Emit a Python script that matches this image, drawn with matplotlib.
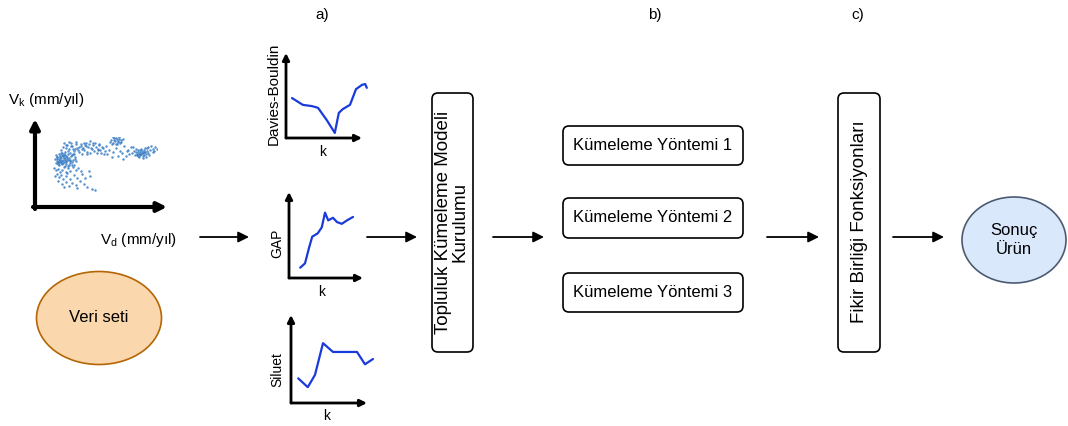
import matplotlib
matplotlib.use("Agg")
import matplotlib.pyplot as plt
from matplotlib.patches import FancyBboxPatch, Ellipse

plt.rcParams['font.family'] = ['Liberation Sans', 'DejaVu Sans']
plt.rcParams['mathtext.fontset'] = 'custom'
plt.rcParams['mathtext.rm'] = 'Liberation Sans'

W, H = 1068, 426

# --- data ---
# velocity scatter (V_d, V_k), grouped by visible clusters
left_vd = [3.1, 4.5, 5.2, 6.0, 6.8, 7.4, 8.1, 8.9, 9.6, 10.3,
           11.0, 11.8, 12.5, 13.3, 14.0, 15.2, 16.4, 17.5, 18.9, 20.1,
           21.6, 22.8, 4.0, 5.7, 7.0, 8.4, 9.9, 11.3, 12.9, 14.6,
           16.0, 17.8, 19.5, 21.0, 3.6, 5.0, 6.4, 7.8, 9.2, 10.7,
           12.1, 13.7, 15.5, 17.1, 18.6, 20.4, 22.2, 4.8, 6.2, 7.6,
           9.0, 10.5, 12.0, 13.5, 15.0, 16.7, 5.5, 8.0, 10.0, 12.2]
left_vk = [30.2, 28.5, 31.4, 27.0, 29.8, 32.5, 26.4, 30.9, 28.1, 33.0,
           27.6, 31.2, 29.3, 25.8, 32.1, 28.9, 30.6, 26.7, 33.4, 29.5,
           31.8, 27.9, 33.6, 26.1, 34.2, 28.0, 25.3, 34.8, 26.9, 30.0,
           25.0, 32.9, 27.4, 24.6, 26.8, 29.7, 24.3, 31.6, 33.7, 29.0,
           24.0, 33.1, 34.5, 29.2, 24.9, 35.0, 30.3, 32.0, 28.4, 27.2,
           35.6, 26.3, 31.0, 28.6, 23.5, 27.8, 25.5, 29.4, 32.4, 34.0]
band_vd = [8.5, 10.2, 12.4, 14.1, 15.8, 17.3, 19.0, 20.6, 22.4, 24.0,
           25.7, 27.2, 28.9, 30.5, 32.1, 33.8, 35.4, 37.0, 38.7, 40.2,
           41.9, 43.5, 45.1, 46.8, 48.4, 50.0, 51.6, 11.3, 13.6, 16.2,
           18.5, 21.1, 23.3, 26.0, 28.1, 30.0, 31.4, 34.6, 36.2, 39.5,
           42.8, 44.6, 47.5, 49.2, 9.7, 15.0, 19.8, 24.8, 29.6, 33.2,
           37.9, 41.0, 46.0, 22.0, 27.5, 32.7, 17.9, 13.0, 35.8, 43.9]
band_vk = [38.2, 41.0, 36.5, 43.1, 39.4, 35.8, 42.2, 37.6, 44.0, 40.3,
           36.1, 43.6, 38.9, 45.0, 41.5, 36.8, 43.9, 39.7, 42.8, 37.3,
           40.9, 38.0, 43.2, 35.9, 39.8, 37.2, 41.7, 44.4, 40.1, 45.3,
           41.9, 34.9, 45.6, 41.2, 35.0, 38.1, 42.6, 40.6, 35.4, 44.7,
           35.6, 42.3, 40.8, 34.4, 35.3, 37.0, 39.0, 38.5, 40.0, 34.6,
           38.8, 44.2, 37.8, 39.3, 42.0, 44.5, 44.8, 42.7, 46.1, 39.0]
top_vd = [55.0, 56.4, 57.8, 58.9, 60.1, 61.2, 62.5, 63.6, 64.8, 66.0,
          67.3, 56.9, 59.5, 61.9, 63.0, 65.3, 58.2, 60.8, 62.2, 64.1]
top_vk = [45.1, 47.6, 44.3, 48.9, 46.2, 49.3, 45.7, 47.9, 44.8, 46.9,
          48.2, 43.6, 47.1, 43.9, 46.6, 45.5, 49.8, 44.0, 48.5, 50.2]
mid_vd = [52.8, 54.5, 56.7, 58.3, 60.5, 62.8, 64.4, 66.9, 68.6, 70.3,
          72.1, 73.8, 75.5, 67.7, 71.0]
mid_vk = [34.1, 38.6, 31.9, 36.4, 40.2, 33.0, 37.7, 35.2, 41.6, 32.5,
          38.3, 34.8, 40.9, 30.4, 36.9]
right_vd = [76.4, 78.0, 79.3, 80.1, 81.0, 81.8, 82.6, 83.5, 84.2, 85.0,
            85.8, 86.7, 87.5, 88.3, 89.2, 90.0, 91.1, 92.4, 79.8, 81.5,
            83.0, 84.7, 86.2, 87.9, 89.6, 82.1, 85.4, 88.8, 80.6, 84.0,
            77.2, 86.9, 90.8, 83.8, 87.2, 91.5, 93.0, 94.6, 95.8, 97.1,
            98.5, 99.6, 96.3]
right_vk = [35.5, 37.2, 33.8, 36.1, 34.6, 38.0, 35.0, 33.2, 36.8, 34.1,
            37.5, 35.3, 33.6, 36.5, 34.4, 37.0, 35.8, 33.9, 39.3, 32.4,
            31.5, 39.1, 32.8, 38.4, 32.1, 36.3, 35.7, 40.2, 34.0, 37.9,
            40.5, 30.9, 39.6, 34.9, 36.0, 41.0, 38.2, 42.1, 39.4, 37.3,
            40.6, 38.8, 36.2]
low_vd = [1.8, 3.5, 5.4, 7.2, 9.1, 11.0, 13.2, 15.3, 17.6, 19.8,
          22.5, 25.1, 27.9, 2.6, 4.7, 6.9, 8.8, 10.6, 12.9, 14.7,
          17.3, 20.6, 24.0, 28.8, 31.5, 34.9, 6.1, 9.5, 13.8, 16.0,
          19.2, 22.7, 26.4, 30.2, 33.6, 37.8, 40.6, 36.5, 23.9, 11.8]
low_vk = [22.1, 19.6, 21.3, 17.8, 20.4, 22.8, 18.5, 21.7, 19.2, 22.4,
          20.0, 21.9, 18.7, 14.9, 16.6, 13.4, 15.8, 12.1, 14.2, 16.9,
          11.5, 15.2, 13.0, 16.3, 12.6, 19.5, 9.8, 7.2, 9.1, 5.6,
          8.4, 6.3, 10.1, 7.7, 4.9, 3.1, 2.2, 14.4, 3.8, 4.5]

# validity index curves
db_k = [2.75, 4.1, 5.25, 6.0, 7.1, 8.1, 8.6, 9.1, 10.0, 10.75, 11.5, 11.9, 12.1]
db_val = [0.94, 0.78, 0.75, 0.71, 0.42, 0.12, 0.59, 0.68, 0.78, 1.15, 1.25, 1.27, 1.18]
gap_k = [3.4, 4.0, 4.5, 4.9, 5.6, 6.1, 6.5, 6.9, 7.5, 8.0, 8.6, 9.25, 10.0]
gap_val = [0.12, 0.17, 0.35, 0.48, 0.52, 0.59, 0.76, 0.67, 0.70, 0.65, 0.63, 0.67, 0.71]
sil_k = [2.9, 4.1, 5.0, 6.0, 7.25, 10.25, 11.25, 12.25]
sil_val = [0.28, 0.18, 0.32, 0.68, 0.58, 0.58, 0.44, 0.50]

methods = ["Kümeleme Yöntemi 1", "Kümeleme Yöntemi 2", "Kümeleme Yöntemi 3"]
step_labels = ["a)", "b)", "c)"]

fig = plt.figure(figsize=(W / 100, H / 100), dpi=100)
ax = fig.add_axes([0, 0, 1, 1])
ax.set_xlim(0, W)
ax.set_ylim(H, 0)
ax.axis('off')


def px_axes(x0, y0, x1, y1):
    # axes placed by pixel box (top-left origin)
    a = fig.add_axes([x0 / W, 1 - y1 / H, (x1 - x0) / W, (y1 - y0) / H])
    a.axis('off')
    return a


def arrow(x0, y0, x1, y1, lw=1.3, ms=16, target=None, coords='data'):
    t = target if target is not None else ax
    t.annotate('', xy=(x1, y1), xytext=(x0, y0), xycoords=coords,
               textcoords=coords, annotation_clip=False,
               arrowprops=dict(arrowstyle='-|>', lw=lw, color='black',
                               mutation_scale=ms, shrinkA=0, shrinkB=0))


def rbox(x0, y0, x1, y1):
    ax.add_patch(FancyBboxPatch((x0, y0), x1 - x0, y1 - y0,
                                boxstyle='round,pad=0,rounding_size=6',
                                fc='white', ec='black', lw=1.2))


# --- data set panel ---
sc = px_axes(52, 137, 157, 192)
sc.set_xlim(0, 100)
sc.set_ylim(0, 50)
for vd, vk in [(left_vd, left_vk), (band_vd, band_vk), (top_vd, top_vk),
               (mid_vd, mid_vk), (right_vd, right_vk), (low_vd, low_vk)]:
    sc.scatter(vd, vk, s=3.2, color='#3b7fc4', alpha=0.85, linewidths=0)

arrow(35, 209, 35, 119, lw=3, ms=14)
arrow(33, 207, 167, 207, lw=3, ms=14)
ax.text(8, 100, r'V$_\mathrm{k}$ (mm/yıl)', fontsize=11, ha='left', va='center')
ax.text(100, 240, r'V$_\mathrm{d}$ (mm/yıl)', fontsize=11, ha='left', va='center')

ax.add_patch(Ellipse((99, 318), 125, 93, fc='#fad7ac', ec='#b46504', lw=1.2))
ax.text(99, 318, 'Veri seti', fontsize=12, ha='center', va='center')

# --- validity index mini plots ---
minis = [
    (286, 53, 362, 138, db_k, db_val, (2, 11.5), (0, 2), 'Davies-Bouldin', 11, 274, 94, 323, 152),
    (289, 192, 363, 278, gap_k, gap_val, (2, 11.25), (0, 1), 'GAP', 10, 277, 243, 322, 292),
    (291, 315, 367, 403, sil_k, sil_val, (2, 11.5), (0, 1), 'Siluet', 10, 277, 370, 327, 416),
]
for x0, y0, x1, y1, k, v, xl, yl, name, fs, lx, ly, kx, ky in minis:
    m = px_axes(x0, y0, x1, y1)
    m.set_xlim(*xl)
    m.set_ylim(*yl)
    m.plot(k, v, color='#1a3bdb', lw=1.6, clip_on=False,
           solid_capstyle='round', solid_joinstyle='round')
    arrow(0, 0, 0, 1, lw=2, ms=10, target=m, coords='axes fraction')
    arrow(0, 0, 1, 0, lw=2, ms=10, target=m, coords='axes fraction')
    ax.text(lx, ly, name, fontsize=fs, rotation=90, ha='center', va='center')
    ax.text(kx, ky, 'k', fontsize=10, ha='center', va='center')

# --- flow boxes ---
rbox(432, 93, 473, 352)
ax.text(452, 222, 'Topluluk Kümeleme Modeli\nKurulumu', fontsize=13.5,
        rotation=90, ha='center', va='center', multialignment='center',
        linespacing=1.0)

box_y = [(126, 165), (198, 238), (273, 312)]
for label, (ya, yb) in zip(methods, box_y):
    rbox(563, ya, 743, yb)
    ax.text(653, (ya + yb) / 2, label, fontsize=12, ha='center', va='center')

rbox(838, 93, 880, 352)
ax.text(859, 222, 'Fikir Birliği Fonksiyonları', fontsize=13.5,
        rotation=90, ha='center', va='center')

ax.add_patch(Ellipse((1014, 240), 104, 86, fc='#dae8fc', ec='#4d5b70', lw=1.2))
ax.text(1014, 240, 'Sonuç\nÜrün', fontsize=12, ha='center', va='center',
        linespacing=1.4)

for x0, x1 in [(200, 249), (367, 417), (493, 544), (767, 819), (893, 944)]:
    arrow(x0, 237, x1, 237)

for label, x in zip(step_labels, [322, 655, 858]):
    ax.text(x, 15, label, fontsize=11, ha='center', va='center')

fig.savefig('out.png', dpi=100)
